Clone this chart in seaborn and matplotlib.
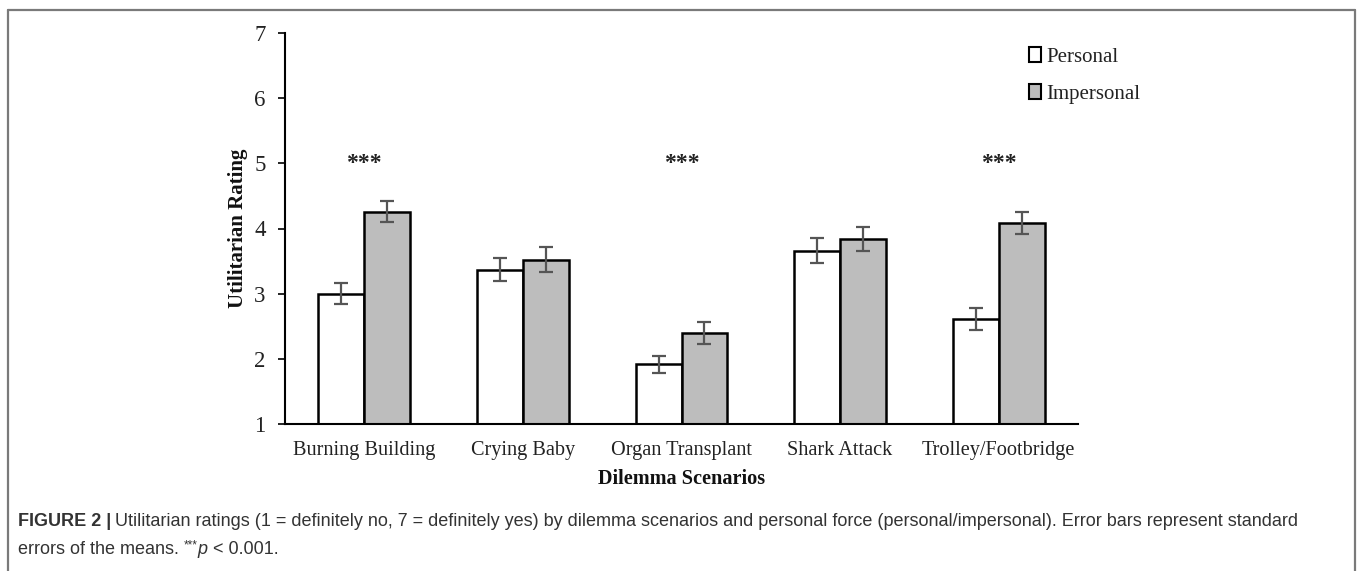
import matplotlib
matplotlib.use("Agg")
import matplotlib.pyplot as plt
import seaborn as sns
import pandas as pd
import numpy as np
from matplotlib.patches import Patch
from matplotlib.lines import Line2D

# ---- data ----
scenarios = ["Burning Building", "Crying Baby", "Organ Transplant", "Shark Attack", "Trolley/Footbridge"]
conditions = ["Personal", "Impersonal"]
personal_means = [3.00, 3.37, 1.92, 3.66, 2.61]
impersonal_means = [4.26, 3.52, 2.39, 3.84, 4.08]
personal_se = [0.16, 0.18, 0.13, 0.19, 0.17]
impersonal_se = [0.16, 0.19, 0.17, 0.18, 0.17]
significant = [True, False, True, False, True]
star_level = 5.0
yticks = [1, 2, 3, 4, 5, 6, 7]

df = pd.DataFrame({
    "Scenario": scenarios * 2,
    "Condition": [conditions[0]] * len(scenarios) + [conditions[1]] * len(scenarios),
    "Rating": personal_means + impersonal_means,
    "SE": personal_se + impersonal_se,
})

sns.set_theme(style="white")
plt.rcParams["font.family"] = ["Liberation Serif", "DejaVu Serif"]

fig = plt.figure(figsize=(13.6, 5.71), dpi=100)
W, H = 1360, 571
ax = fig.add_axes([285 / W, 1 - 424 / H, (1078 - 285) / W, (424 - 33) / H])

palette = {"Personal": "white", "Impersonal": "#bdbdbd"}
sns.barplot(data=df, x="Scenario", y="Rating", hue="Condition", order=scenarios,
            hue_order=conditions, palette=palette, errorbar=None, width=0.58,
            edgecolor="black", linewidth=1.8, ax=ax, legend=False)

ax.set_ylim(1, 7)
ax.set_xlim(-0.5, len(scenarios) - 0.5)

# error bars placed at the bar centres
bars = [p for p in ax.patches]
se_all = df["SE"].tolist()
vals = df["Rating"].tolist()
for p, v, s in zip(bars, vals, se_all):
    cx = p.get_x() + p.get_width() / 2
    ax.errorbar(cx, v, yerr=s, fmt="none", ecolor="#555555", elinewidth=1.6,
                capsize=5, capthick=1.6, zorder=5)

# significance stars
for i, sig in enumerate(significant):
    if sig:
        ax.text(i, star_level, "***", ha="center", va="center", fontsize=17,
                fontweight="bold", color="#222222")

sns.despine(ax=ax)
for sp in ["left", "bottom"]:
    ax.spines[sp].set_color("black")
    ax.spines[sp].set_linewidth(1.5)
ax.set_yticks(yticks)
ax.set_yticklabels([str(t) for t in yticks])
ax.tick_params(axis="y", which="major", direction="out", length=5, width=1.2,
               left=True, pad=9, labelsize=16.5, colors="black")
ax.tick_params(axis="x", length=0, pad=12, labelsize=14.6, colors="black")
for lab in ax.get_xticklabels() + ax.get_yticklabels():
    lab.set_color("#222222")
ax.set_xlabel("Dilemma Scenarios", fontsize=14.6, fontweight="bold", color="#111111", labelpad=7)
ax.set_ylabel("Utilitarian Rating", fontsize=15, fontweight="bold", color="#111111", labelpad=4)
ax.grid(False)

handles = [Patch(facecolor=palette[c], edgecolor="black", linewidth=1.5, label=c) for c in conditions]
leg = ax.legend(handles=handles, loc="upper left", bbox_to_anchor=(0.928, 0.985),
                frameon=False, fontsize=15, handlelength=0.55, handleheight=0.7,
                handletextpad=0.25, labelspacing=0.85, borderaxespad=0)
for t in leg.get_texts():
    t.set_color("#222222")

# outer frame (top, left, right)
frame_c = "#7a7a7a"
fig.add_artist(Line2D([8 / W, 1355 / W], [1 - 10 / H, 1 - 10 / H], transform=fig.transFigure, color=frame_c, lw=1.6))
fig.add_artist(Line2D([8 / W, 8 / W], [0, 1 - 10 / H], transform=fig.transFigure, color=frame_c, lw=1.6))
fig.add_artist(Line2D([1355 / W, 1355 / W], [0, 1 - 10 / H], transform=fig.transFigure, color=frame_c, lw=1.6))

# caption
cap_font = ["Liberation Sans", "DejaVu Sans"]
cap_size = 12.95
cap_col = "#333333"
y1 = 1 - 521 / H
y2 = 1 - 549 / H
x0 = 18 / W
fig.canvas.draw()
r = fig.canvas.get_renderer()

def put(x, y, s, **kw):
    t = fig.text(x, y, s, va="center", ha="left", family=cap_font, color=cap_col, **kw)
    bb = t.get_window_extent(renderer=r)
    return x + bb.width / W

x = put(x0, y1, "FIGURE 2 |", fontsize=cap_size, fontweight="bold")
put(x + 4 / W, y1, "Utilitarian ratings (1 = definitely no, 7 = definitely yes) by dilemma scenarios and personal force (personal/impersonal). Error bars represent standard", fontsize=cap_size)
x = put(x0, y2, "errors of the means. ", fontsize=cap_size)
x = put(x, y2 + 4 / H, "***", fontsize=8.5)
x = put(x, y2, "p", fontsize=cap_size, style="italic")
put(x + 5 / W, y2, "< 0.001.", fontsize=cap_size)

fig.savefig("out.png", dpi=100, facecolor="white")
